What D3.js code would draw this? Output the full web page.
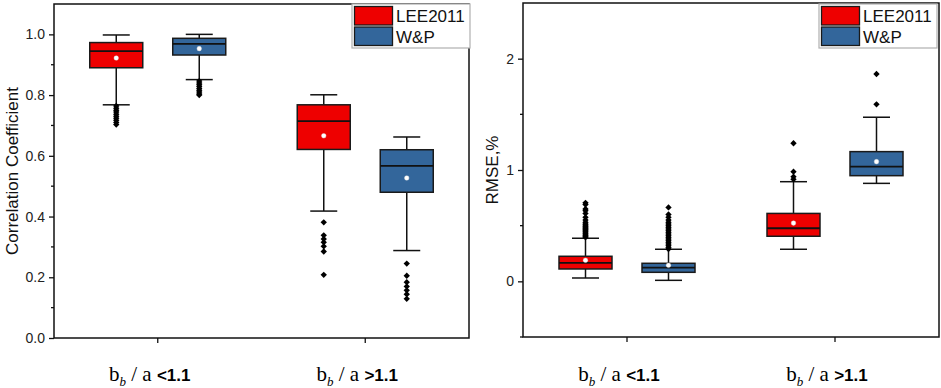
<!DOCTYPE html>
<html>
<head>
<meta charset="utf-8">
<script src="https://cdn.jsdelivr.net/npm/d3@7/dist/d3.min.js"></script>
<style>
  body { margin: 0; background: #fff; }
  text { font-family: "Liberation Sans", Arial, sans-serif; }
</style>
</head>
<body>
<script>
// categories
const groups = ["<1.1", ">1.1"];
const series = ["LEE2011", "W&P"];
const colors = ["#EE0000", "#33669B"];

// box stats: [whiskerLow, q1, median, q3, whiskerHigh, mean], order LEE<1.1, W&P<1.1, LEE>1.1, W&P>1.1
const ccBoxes = [
  [0.768, 0.890, 0.945, 0.973, 0.998, 0.922],
  [0.851, 0.932, 0.969, 0.987, 1.000, 0.953],
  [0.418, 0.621, 0.714, 0.768, 0.801, 0.666],
  [0.288, 0.480, 0.567, 0.620, 0.662, 0.527]
];
const ccOutliers = [
  [0.764, 0.757, 0.750, 0.744, 0.737, 0.730, 0.724, 0.717, 0.710, 0.703],
  [0.846, 0.840, 0.834, 0.828, 0.822, 0.816, 0.810, 0.804, 0.800],
  [0.381, 0.338, 0.326, 0.315, 0.302, 0.285, 0.208],
  [0.245, 0.205, 0.184, 0.170, 0.157, 0.144, 0.129]
];
const rmseBoxes = [
  [0.030, 0.111, 0.165, 0.225, 0.387, 0.189],
  [0.009, 0.081, 0.123, 0.162, 0.288, 0.144],
  [0.288, 0.405, 0.477, 0.610, 0.895, 0.523],
  [0.880, 0.949, 1.030, 1.165, 1.474, 1.075]
];
const rmseOutliers = [
  [0.395, 0.405, 0.415, 0.425, 0.435, 0.445, 0.455, 0.465, 0.475, 0.485, 0.495, 0.505, 0.515, 0.53, 0.55, 0.575, 0.61, 0.635, 0.65, 0.69, 0.705],
  [0.29, 0.305, 0.32, 0.335, 0.35, 0.365, 0.38, 0.395, 0.41, 0.425, 0.44, 0.455, 0.47, 0.485, 0.50, 0.515, 0.53, 0.55, 0.575, 0.60, 0.664],
  [0.916, 0.94, 0.985, 1.24],
  [1.59, 1.862]
];

// axis ticks
const ccTicks = [0, 0.2, 0.4, 0.6, 0.8, 1.0];
const ccMinor = [0.1, 0.3, 0.5, 0.7, 0.9];
const rmseTicks = [0, 1, 2];
const rmseMinor = [-0.5, 0.5, 1.5];

const W = 941, H = 388;
const svg = d3.select("body").append("svg").attr("width", W).attr("height", H);

function panel(opt) {
  const x = d3.scaleBand().domain(groups).range([opt.x0, opt.x1]).padding(0);
  const xs = d3.scalePoint().domain(series).range([-41.5, 41.5]);
  const y = d3.scaleLinear().domain(opt.domain).range([opt.y1, opt.y0]);
  const g = svg.append("g");
  const bw = 53, cap = 27;

  // boxes
  opt.boxes.forEach(function(b, i) {
    const grp = groups[Math.floor(i / 2)], s = series[i % 2];
    const cx = x(grp) + x.bandwidth() / 2 + xs(s);
    // whiskers
    g.append("line").attr("x1", cx).attr("x2", cx).attr("y1", y(b[0])).attr("y2", y(b[4]))
      .attr("stroke", "#111").attr("stroke-width", 1.5);
    [b[0], b[4]].forEach(function(v) {
      g.append("line").attr("x1", cx - cap / 2).attr("x2", cx + cap / 2).attr("y1", y(v)).attr("y2", y(v))
        .attr("stroke", "#111").attr("stroke-width", 1.5);
    });
    g.append("rect").attr("x", cx - bw / 2).attr("width", bw)
      .attr("y", y(b[3])).attr("height", y(b[1]) - y(b[3]))
      .attr("fill", colors[i % 2]).attr("stroke", "#1a1a1a").attr("stroke-width", 1.5);
    g.append("line").attr("x1", cx - bw / 2).attr("x2", cx + bw / 2).attr("y1", y(b[2])).attr("y2", y(b[2]))
      .attr("stroke", "#111").attr("stroke-width", 1.8);
    g.append("circle").attr("cx", cx).attr("cy", y(b[5])).attr("r", 2.3)
      .attr("fill", "#fff").attr("stroke", "#ddd").attr("stroke-width", 0.4);
    // outliers (rotated squares)
    g.selectAll(null).data(opt.outliers[i]).enter().append("path")
      .attr("d", d3.symbol().type(d3.symbolSquare).size(20))
      .attr("transform", function(d) { return "translate(" + cx + "," + y(d) + ") rotate(45)"; })
      .attr("fill", "#000");
  });

  // frame
  g.append("rect").attr("x", opt.x0).attr("y", opt.y0)
    .attr("width", opt.x1 - opt.x0).attr("height", opt.y1 - opt.y0)
    .attr("fill", "none").attr("stroke", "#111").attr("stroke-width", 1.5);

  // y axis
  const ya = g.append("g").attr("transform", "translate(" + opt.x0 + ",0)")
    .call(d3.axisLeft(y).tickValues(opt.ticks).tickSize(5).tickPadding(4).tickFormat(opt.fmt));
  ya.select(".domain").remove();
  ya.selectAll("line").attr("stroke", "#111").attr("stroke-width", 1.3);
  ya.selectAll("text").attr("font-size", 14).attr("fill", "#222")
    .attr("font-family", "'Liberation Sans', Arial, sans-serif");
  g.selectAll(null).data(opt.minor).enter().append("line")
    .attr("x1", opt.x0 - 3).attr("x2", opt.x0).attr("y1", function(d) { return y(d); }).attr("y2", function(d) { return y(d); })
    .attr("stroke", "#111").attr("stroke-width", 1.3);

  // x axis ticks
  const xa = g.append("g").attr("transform", "translate(0," + opt.y1 + ")")
    .call(d3.axisBottom(x).tickSize(5).tickFormat(""));
  xa.select(".domain").remove();
  xa.selectAll("line").attr("stroke", "#111").attr("stroke-width", 1.3);

  // x labels
  groups.forEach(function(grp) {
    const t = g.append("text").attr("x", x(grp) + x.bandwidth() / 2 - 8).attr("y", 381)
      .attr("text-anchor", "middle");
    t.append("tspan").text("b").attr("font-family", "'Liberation Serif', 'Times New Roman', serif").attr("font-size", 21);
    t.append("tspan").text("b").attr("font-family", "'Liberation Serif', 'Times New Roman', serif")
      .attr("font-style", "italic").attr("font-size", 13).attr("dy", 5);
    t.append("tspan").text(" / a ").attr("font-family", "'Liberation Serif', 'Times New Roman', serif")
      .attr("font-size", 21).attr("dy", -5);
    t.append("tspan").text(grp).attr("font-weight", "bold").attr("font-size", 17);
  });

  // y title
  g.append("text").attr("transform", "translate(" + opt.titleX + "," + ((opt.y0 + opt.y1) / 2) + ") rotate(-90)")
    .attr("text-anchor", "middle").attr("dy", "0.35em").attr("font-size", 17).attr("fill", "#111")
    .text(opt.title);

  // legend
  const lg = g.append("g").attr("transform", "translate(" + opt.legX + ",4)");
  lg.append("rect").attr("width", 118).attr("height", 44).attr("fill", "#fff")
    .attr("stroke", "#b0b0b0").attr("stroke-width", 1.2);
  series.forEach(function(s, i) {
    lg.append("rect").attr("x", 2.5).attr("y", 2.5 + i * 20.5).attr("width", 38).attr("height", 18.5)
      .attr("fill", colors[i]).attr("stroke", "#1a1a1a").attr("stroke-width", 1.3);
    lg.append("text").attr("x", 44).attr("y", 18 + i * 20.5).attr("font-size", 17).attr("fill", "#111").text(s);
  });
}

panel({
  x0: 54, x1: 469, y0: 4, y1: 338, domain: [0, 1.1],
  boxes: ccBoxes, outliers: ccOutliers, ticks: ccTicks, minor: ccMinor,
  fmt: d3.format(".1f"), title: "Correlation Coefficient", titleX: 12, legX: 352
});
panel({
  x0: 523, x1: 939, y0: 3, y1: 337, domain: [-0.5, 2.5],
  boxes: rmseBoxes, outliers: rmseOutliers, ticks: rmseTicks, minor: rmseMinor,
  fmt: d3.format("d"), title: "RMSE,%", titleX: 492, legX: 819
});
</script>
</body>
</html>
